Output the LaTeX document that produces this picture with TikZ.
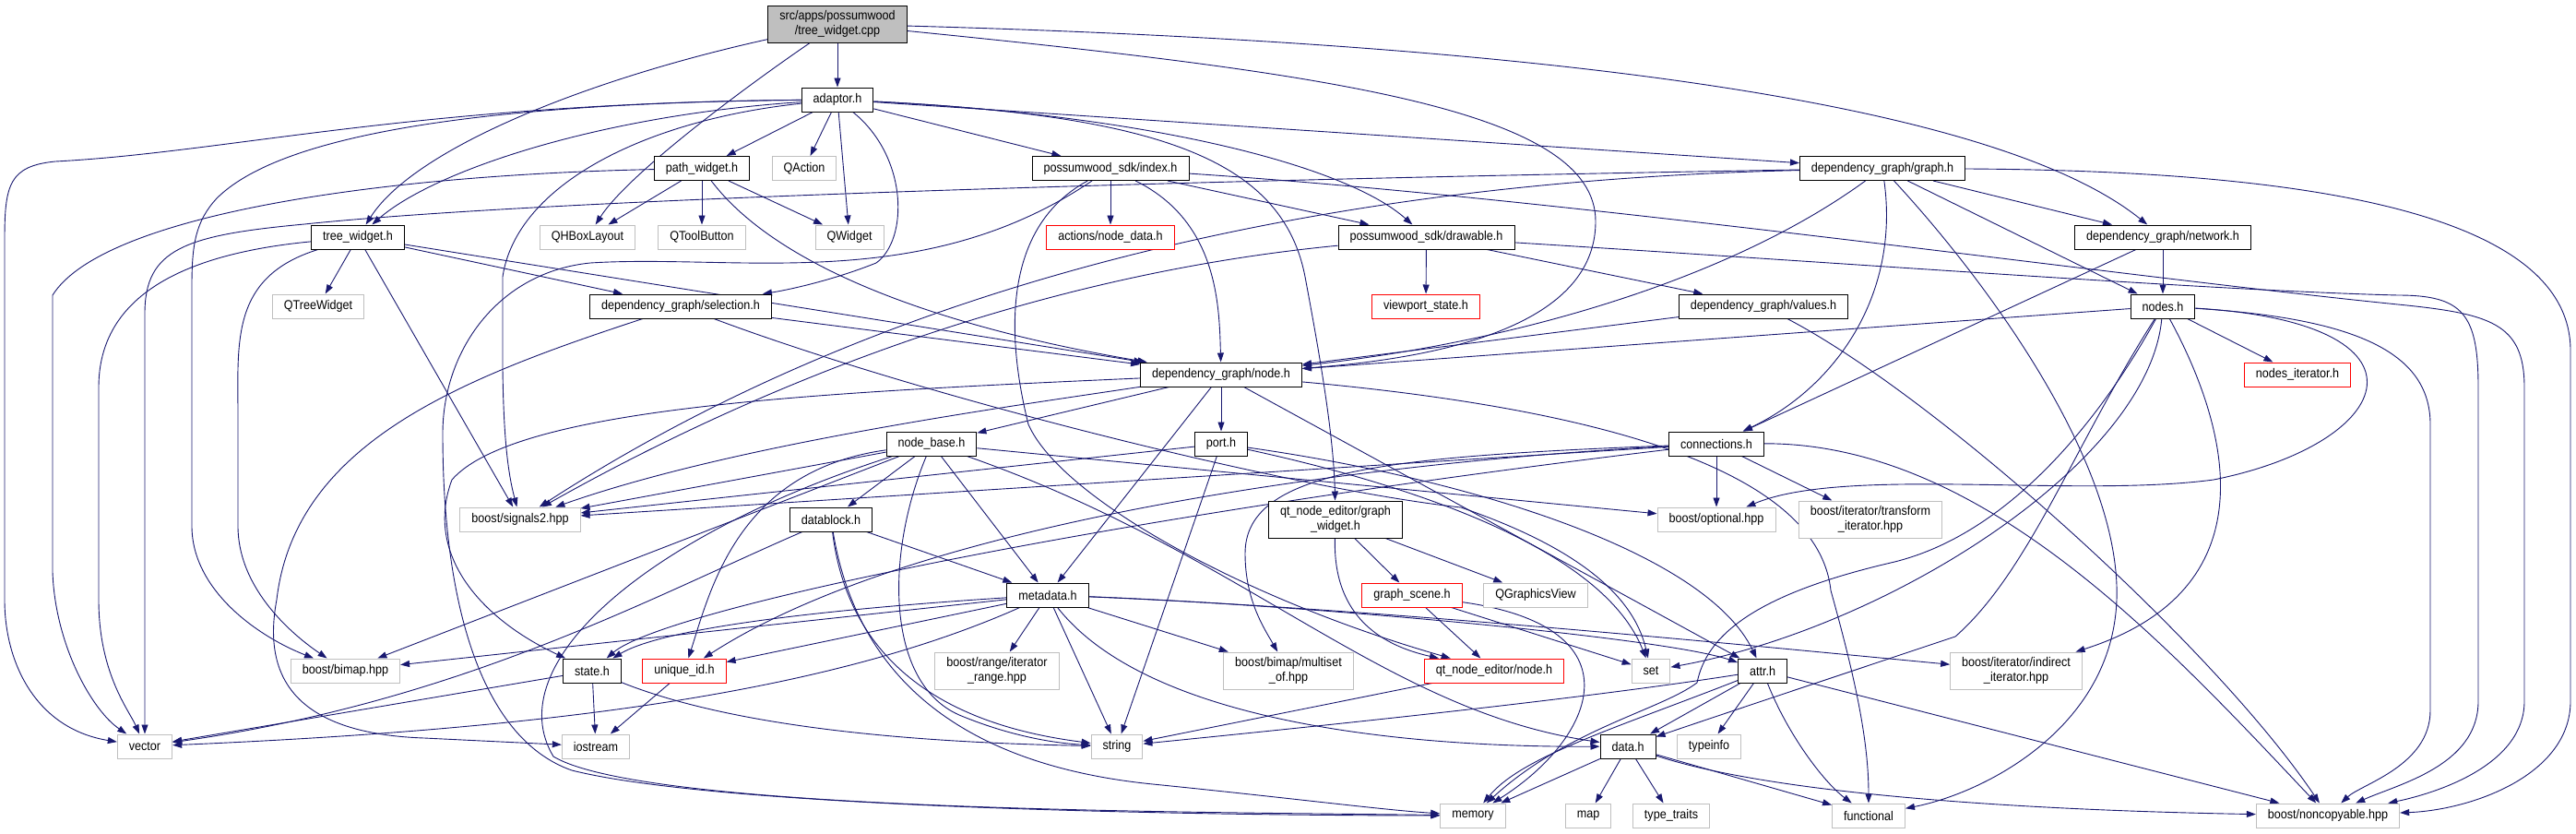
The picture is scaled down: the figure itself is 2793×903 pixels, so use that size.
\documentclass[tikz,border=0pt]{standalone}
\usepackage{fontspec}
\setmainfont{Liberation Sans}[FakeStretch=0.9]
\usetikzlibrary{arrows.meta}
\definecolor{dgedge}{RGB}{25,25,112}
\definecolor{dggray}{RGB}{191,191,191}
\definecolor{dgred}{RGB}{255,0,0}
\pgfdeclarelayer{wires}
\pgfsetlayers{wires,main}
\tikzset{
  hdr/.style={draw=black,line width=1pt,fill=white,inner xsep=12.5pt,inner ysep=2pt,
    minimum height=26pt,align=center,font=\fontsize{14}{15.5}\selectfont},
  hdrtwo/.style={hdr,minimum height=40pt},
  sysbox/.style={hdr,draw=dggray},
  systwo/.style={hdrtwo,draw=dggray},
  redbox/.style={hdr,draw=dgred},
  inc/.style={dgedge,line width=0.9pt,-{Triangle[length=10pt,width=7pt]}}
}

\begin{document}
\begin{tikzpicture}[x=1pt,y=-1pt]
  \useasboundingbox (0,0) rectangle (2793,903);
  % Top: the source file and its first includes
  \node[hdrtwo,fill=dggray] (cpp) at (908,26) {src/apps/possumwood\\/tree\_widget.cpp};
  \node[hdr] (adaptor) at (908,108) {adaptor.h};
  \node[hdr] (pathw) at (761,182.5) {path\_widget.h};
  \node[sysbox] (qaction) at (872,182.5) {QAction};
  \node[hdr] (index) at (1204,182.5) {possumwood\_sdk/index.h};
  \node[hdr] (graphh) at (2041,182.5) {dependency\_graph/graph.h};
  \node[hdr] (treew) at (388,257) {tree\_widget.h};
  \node[sysbox] (qhbox) at (637,257) {QHBoxLayout};
  \node[sysbox] (qtool) at (761,257) {QToolButton};
  \node[sysbox] (qwidget) at (921,257) {QWidget};
  \node[redbox] (nodedata) at (1204,257) {actions/node\_data.h};
  \node[hdr] (drawable) at (1546.5,257) {possumwood\_sdk/drawable.h};
  \node[hdr] (network) at (2345,257) {dependency\_graph/network.h};
  \node[sysbox] (qtree) at (345,332) {QTreeWidget};
  \node[hdr] (selection) at (738,332) {dependency\_graph/selection.h};
  \node[redbox] (viewport) at (1546,332) {viewport\_state.h};
  \node[hdr] (values) at (1912,332) {dependency\_graph/values.h};
  \node[hdr] (nodes) at (2345,332) {nodes.h};
  % Middle: node headers
  \node[hdr] (nodeh) at (1324,406) {dependency\_graph/node.h};
  \node[redbox] (nodesit) at (2491,406) {nodes\_iterator.h};
  \node[hdr] (nodebase) at (1010,481) {node\_base.h};
  \node[hdr] (port) at (1324,481) {port.h};
  \node[hdr] (connections) at (1861,481) {connections.h};
  \node[sysbox] (signals) at (564,563) {boost/signals2.hpp};
  \node[hdr] (datablock) at (901,563) {datablock.h};
  \node[hdrtwo] (gwidget) at (1448,563) {qt\_node\_editor/graph\\\_widget.h};
  \node[sysbox] (optional) at (1861,563) {boost/optional.hpp};
  \node[systwo] (transform) at (2028,563) {boost/iterator/transform\\\_iterator.hpp};
  \node[hdr] (metadata) at (1136,645) {metadata.h};
  \node[redbox] (gscene) at (1531,645) {graph\_scene.h};
  \node[sysbox] (qgview) at (1665,645) {QGraphicsView};
  % Bottom: leaves
  \node[sysbox] (bimap) at (374.5,727) {boost/bimap.hpp};
  \node[hdr] (state) at (642,727) {state.h};
  \node[redbox] (uniqueid) at (742,727) {unique\_id.h};
  \node[systwo] (range) at (1081,727) {boost/range/iterator\\\_range.hpp};
  \node[systwo] (multiset) at (1397,727) {boost/bimap/multiset\\\_of.hpp};
  \node[redbox] (qtnode) at (1620,727) {qt\_node\_editor/node.h};
  \node[sysbox] (set) at (1790,727) {set};
  \node[hdr] (attr) at (1911,727) {attr.h};
  \node[systwo] (indirect) at (2186,727) {boost/iterator/indirect\\\_iterator.hpp};
  \node[sysbox] (vector) at (157,809) {vector};
  \node[sysbox] (iostream) at (646,809) {iostream};
  \node[sysbox] (string) at (1211,809) {string};
  \node[hdr] (datah) at (1765,809) {data.h};
  \node[sysbox] (typeinfo) at (1853,809) {typeinfo};
  \node[sysbox] (memory) at (1597,884) {memory};
  \node[sysbox] (map) at (1722,884) {map};
  \node[sysbox] (typetraits) at (1812,884) {type\_traits};
  \node[sysbox] (functional) at (2026,884) {functional};
  \node[sysbox] (noncopy) at (2524,884) {boost/noncopyable.hpp};

  \begin{pgfonlayer}{wires}
  % tree_widget.cpp
  \draw[inc] (cpp) -- (adaptor);
  \draw[inc] (cpp) .. controls (640,85) and (450,160) .. (treew);
  \draw[inc] (cpp) .. controls (800,100) and (680,190) .. (qhbox);
  \draw[inc] (cpp) .. controls (1450,80) and (1730,120) .. (1730,240) .. controls (1730,340) and (1600,385) .. (nodeh);
  \draw[inc] (cpp) .. controls (1600,45) and (2150,100) .. (network);
  % adaptor.h
  \draw[inc] (adaptor) .. controls (650,125) and (470,185) .. (treew);
  \draw[inc] (adaptor) -- (pathw);
  \draw[inc] (adaptor) -- (qaction);
  \draw[inc] (adaptor) -- (qwidget);
  \draw[inc] (adaptor) .. controls (985,170) and (985,260) .. (950,285) .. controls (900,305) and (850,315) .. (selection);
  \draw[inc] (adaptor) -- (index);
  \draw[inc] (adaptor) -- (graphh);
  \draw[inc] (adaptor) .. controls (1250,125) and (1460,180) .. (drawable);
  \draw[inc] (adaptor) .. controls (1250,125) and (1390,170) .. (1415,300) .. controls (1430,380) and (1446,470) .. (gwidget);
  \draw[inc] (adaptor) .. controls (450,112) and (250,165) .. (60,175) .. controls (10,180) and (5,200) .. (5,260) -- (5,650) .. controls (5,720) and (40,790) .. (vector);
  \draw[inc] (adaptor) .. controls (500,112) and (300,150) .. (235,215) .. controls (212,240) and (208,265) .. (208,310) -- (208,570) .. controls (208,640) and (280,690) .. (bimap);
  \draw[inc] (adaptor) .. controls (700,130) and (560,200) .. (545,300) -- (545,400) .. controls (546,470) and (550,510) .. (signals);
  % tree_widget.h
  \draw[inc] (treew) -- (qtree);
  \draw[inc] (treew) -- (selection);
  \draw[inc] (treew) -- (nodeh);
  \draw[inc] (treew) -- (signals);
  \draw[inc] (treew) .. controls (250,300) and (258,370) .. (258,450) -- (258,570) .. controls (258,640) and (320,690) .. (bimap);
  \draw[inc] (treew) .. controls (200,275) and (107,320) .. (107,420) -- (107,650) .. controls (107,730) and (140,770) .. (vector);
  % path_widget.h
  \draw[inc] (pathw) -- (qhbox);
  \draw[inc] (pathw) -- (qtool);
  \draw[inc] (pathw) -- (qwidget);
  \draw[inc] (pathw) .. controls (850,300) and (1050,360) .. (nodeh);
  \draw[inc] (pathw) .. controls (400,190) and (110,235) .. (57,320) -- (57,620) .. controls (60,700) and (100,770) .. (vector);
  % graph.h
  \draw[inc] (graphh) -- (network);
  \draw[inc] (graphh) -- (nodes);
  \draw[inc] (graphh) .. controls (1880,300) and (1650,370) .. (nodeh);
  \draw[inc] (graphh) .. controls (1300,195) and (600,215) .. (330,243) .. controls (200,255) and (157,270) .. (157,340) -- (vector);
  \draw[inc] (graphh) .. controls (1500,195) and (1000,280) .. (signals);
  \draw[inc] (graphh) .. controls (2060,320) and (1990,420) .. (connections);
  \draw[inc] (graphh) .. controls (2500,185) and (2787,230) .. (2787,380) -- (2787,760) .. controls (2787,840) and (2680,878) .. (noncopy);
  \draw[inc] (graphh) .. controls (2150,300) and (2300,500) .. (2295,650) .. controls (2290,790) and (2150,860) .. (functional);
  % index.h and drawable.h
  \draw[inc] (index) -- (nodedata);
  \draw[inc] (index) -- (drawable);
  \draw[inc] (index) .. controls (1320,240) and (1322,330) .. (nodeh);
  \draw[inc] (index) .. controls (1700,215) and (2300,300) .. (2600,330) .. controls (2700,340) and (2737,350) .. (2737,420) -- (2737,760) .. controls (2737,830) and (2640,860) .. (noncopy);
  \draw[inc] (index) .. controls (1080,250) and (1095,380) .. (1115,460) .. controls (1150,540) and (1350,650) .. (qtnode);
  \draw[inc] (index) .. controls (1000,320) and (800,275) .. (640,285) .. controls (540,295) and (480,380) .. (480,470) .. controls (480,650) and (520,800) .. (620,835) .. controls (800,880) and (1400,884) .. (memory);
  \draw[inc] (drawable) -- (viewport);
  \draw[inc] (drawable) -- (values);
  \draw[inc] (drawable) .. controls (2000,285) and (2400,315) .. (2600,320) .. controls (2670,320) and (2687,340) .. (2687,420) -- (2687,760) .. controls (2687,830) and (2600,850) .. (noncopy);
  \draw[inc] (drawable) .. controls (1100,300) and (800,430) .. (signals);
  \draw[inc] (values) -- (nodeh);
  \draw[inc] (values) .. controls (2100,430) and (2400,700) .. (noncopy);
  % network.h and nodes.h
  \draw[inc] (network) -- (nodes);
  \draw[inc] (network) -- (connections);
  \draw[inc] (nodes) -- (nodeh);
  \draw[inc] (nodes) -- (nodesit);
  \draw[inc] (nodes) .. controls (2550,345) and (2635,380) .. (2635,460) -- (2635,770) .. controls (2635,830) and (2560,850) .. (noncopy);
  \draw[inc] (nodes) .. controls (2650,350) and (2600,480) .. (2400,520) .. controls (2250,540) and (2000,505) .. (optional);
  \draw[inc] (nodes) .. controls (2280,450) and (2180,580) .. (2050,610) .. controls (1900,645) and (1850,690) .. (1840,740) .. controls (1800,770) and (1700,790) .. (memory);
  \draw[inc] (nodes) .. controls (2250,480) and (2200,620) .. (2120,690) .. controls (2000,730) and (1850,780) .. (datah);
  \draw[inc] (nodes) .. controls (2330,500) and (2050,680) .. (set);
  \draw[inc] (nodes) .. controls (2420,470) and (2460,640) .. (indirect);
  % dependency_graph/node.h
  \draw[inc] (nodeh) -- (port);
  \draw[inc] (nodeh) -- (metadata);
  \draw[inc] (nodeh) -- (nodebase);
  \draw[inc] (nodeh) .. controls (1100,440) and (800,480) .. (signals);
  \draw[inc] (nodeh) .. controls (900,425) and (560,440) .. (490,520) .. controls (460,600) and (520,670) .. (state);
  \draw[inc] (nodeh) -- (attr);
  \draw[inc] (nodeh) .. controls (1700,440) and (1970,500) .. (1985,640) .. controls (2010,730) and (2026,800) .. (functional);
  % node_base.h and port.h
  \draw[inc] (nodebase) -- (datablock);
  \draw[inc] (nodebase) -- (metadata);
  \draw[inc] (nodebase) .. controls (960,600) and (960,740) .. (1040,775) .. controls (1100,800) and (1150,806) .. (string);
  \draw[inc] (nodebase) .. controls (1350,600) and (1500,770) .. (datah);
  \draw[inc] (nodebase) .. controls (800,510) and (770,640) .. (uniqueid);
  \draw[inc] (nodebase) -- (signals);
  \draw[inc] (nodebase) .. controls (700,580) and (540,720) .. (600,820) .. controls (700,880) and (1300,880) .. (memory);
  \draw[inc] (nodebase) -- (bimap);
  \draw[inc] (nodebase) -- (optional);
  \draw[inc] (port) -- (signals);
  \draw[inc] (port) -- (string);
  \draw[inc] (port) .. controls (1550,530) and (1740,600) .. (set);
  \draw[inc] (port) .. controls (1600,520) and (1850,600) .. (attr);
  % connections.h and selection.h
  \draw[inc] (connections) -- (optional);
  \draw[inc] (connections) -- (transform);
  \draw[inc] (connections) .. controls (2150,480) and (2350,700) .. (noncopy);
  \draw[inc] (connections) -- (signals);
  \draw[inc] (connections) .. controls (1500,500) and (1000,560) .. (uniqueid);
  \draw[inc] (connections) .. controls (1200,560) and (720,660) .. (state);
  \draw[inc] (connections) .. controls (1500,495) and (1350,510) .. (1350,600) .. controls (1350,650) and (1370,680) .. (multiset);
  \draw[inc] (selection) -- (nodeh);
  \draw[inc] (selection) .. controls (500,410) and (320,480) .. (300,650) .. controls (285,730) and (315,795) .. (460,800) -- (iostream);
  \draw[inc] (selection) .. controls (1000,430) and (1400,530) .. (1584,550) .. controls (1700,590) and (1770,640) .. (set);
  % datablock.h and metadata.h
  \draw[inc] (datablock) -- (metadata);
  \draw[inc] (datablock) .. controls (700,650) and (500,760) .. (vector);
  \draw[inc] (datablock) .. controls (915,680) and (980,780) .. (string);
  \draw[inc] (datablock) .. controls (930,740) and (1050,830) .. (1250,850) .. controls (1400,865) and (1500,878) .. (memory);
  \draw[inc] (metadata) -- (range);
  \draw[inc] (metadata) -- (string);
  \draw[inc] (metadata) -- (multiset);
  \draw[inc] (metadata) .. controls (1250,790) and (1550,810) .. (datah);
  \draw[inc] (metadata) .. controls (1400,655) and (1800,690) .. (attr);
  \draw[inc] (metadata) .. controls (1500,660) and (1900,700) .. (indirect);
  \draw[inc] (metadata) -- (uniqueid);
  \draw[inc] (metadata) -- (bimap);
  \draw[inc] (metadata) .. controls (900,750) and (600,790) .. (vector);
  \draw[inc] (metadata) .. controls (900,660) and (720,680) .. (state);
  % state.h, unique_id.h
  \draw[inc] (state) -- (vector);
  \draw[inc] (state) -- (iostream);
  \draw[inc] (state) .. controls (800,790) and (1000,805) .. (string);
  \draw[inc] (uniqueid) -- (iostream);
  % qt_node_editor
  \draw[inc] (gwidget) -- (gscene);
  \draw[inc] (gwidget) -- (qgview);
  \draw[inc] (gwidget) .. controls (1445,670) and (1500,700) .. (qtnode);
  \draw[inc] (gscene) -- (qtnode);
  \draw[inc] (gscene) -- (set);
  \draw[inc] (gscene) .. controls (1780,680) and (1730,800) .. (memory);
  \draw[inc] (qtnode) -- (string);
  % attr.h and data.h
  \draw[inc] (attr) .. controls (1700,760) and (1400,790) .. (string);
  \draw[inc] (attr) .. controls (1750,790) and (1650,820) .. (memory);
  \draw[inc] (attr) -- (datah);
  \draw[inc] (attr) -- (typeinfo);
  \draw[inc] (attr) .. controls (1940,800) and (1980,850) .. (functional);
  \draw[inc] (attr) -- (noncopy);
  \draw[inc] (datah) -- (memory);
  \draw[inc] (datah) -- (map);
  \draw[inc] (datah) -- (typetraits);
  \draw[inc] (datah) -- (functional);
  \draw[inc] (datah) .. controls (1950,870) and (2300,880) .. (noncopy);
  \end{pgfonlayer}
\end{tikzpicture}
\end{document}
